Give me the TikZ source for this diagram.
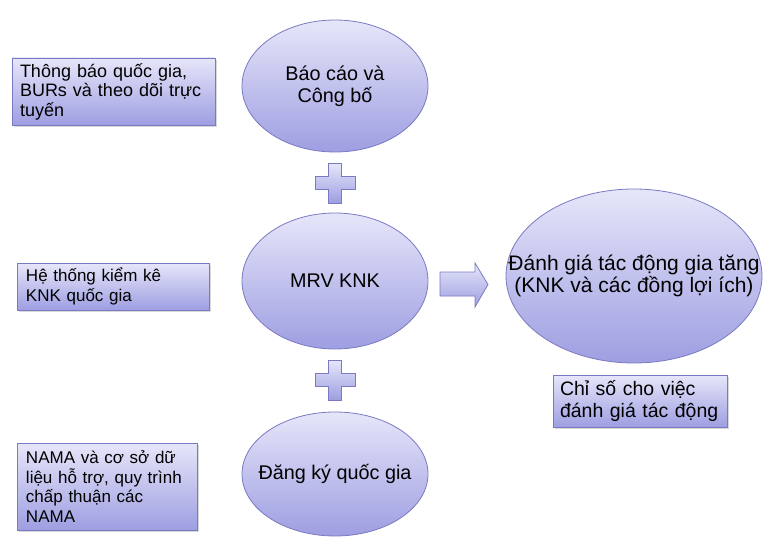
\documentclass[tikz,border=0pt]{standalone}
\usepackage{fontspec}
\setmainfont{Liberation Sans}
\usetikzlibrary{shapes.geometric,shadows}

\definecolor{fillTop}{HTML}{E6E6FA}
\definecolor{fillBot}{HTML}{9E9EE2}
\definecolor{edgeCol}{HTML}{7A7AC2}

\tikzset{
  lav/.style={draw=edgeCol, line width=0.8pt, top color=fillTop, bottom color=fillBot},
  % ellipse of fixed size; its text is set as a centred label so it cannot grow
  oval/.style={lav, ellipse, inner sep=0pt},
  ovaltext/.style={align=center, font=\fontsize{19.8}{22}\selectfont},
  infobox/.style={lav, rectangle, inner ysep=0pt, inner xsep=9pt, align=left,
    font=\fontsize{17}{19.5}\selectfont,
    drop shadow={shadow xshift=1.5pt, shadow yshift=-2pt, opacity=0.3}},
  pics/crossmark/.style={code={
    \path[lav] (-6.5,-20) -- (6.5,-20) -- (6.5,-6.5) -- (20,-6.5) -- (20,6.5)
      -- (6.5,6.5) -- (6.5,20) -- (-6.5,20) -- (-6.5,6.5) -- (-20,6.5)
      -- (-20,-6.5) -- (-6.5,-6.5) -- cycle;}},
}

\begin{document}
\begin{tikzpicture}[x=1pt, y=-1pt]
  \fill[white] (0,0) rectangle (764,543);
  \useasboundingbox (0,0) rectangle (764,543);

  % central column of ellipses
  \node[oval, minimum width=186pt, minimum height=132pt,
    label={[ovaltext]center:Báo cáo và\\Công bố}] (report) at (335,86) {};
  \node[oval, minimum width=186pt, minimum height=136pt,
    label={[ovaltext]center:MRV KNK}] (mrv) at (335,281) {};
  \node[oval, minimum width=186pt, minimum height=124pt,
    label={[ovaltext]center:Đăng ký quốc gia}] (registry) at (335,474) {};

  % plus signs between the ellipses
  \pic at (335,183) {crossmark};
  \pic at (335,380) {crossmark};

  % block arrow towards the assessment
  \path[lav] (440,272) -- (475,272) -- (475,263) -- (488,284.5) -- (475,307)
    -- (475,296) -- (440,296) -- cycle;

  % assessment ellipse and its indicator box
  \node[oval, minimum width=256pt, minimum height=174pt,
    label={[ovaltext, font=\fontsize{21}{22.5}\selectfont]center:Đánh giá tác động gia tăng\\(KNK và các đồng lợi ích)}]
    (impact) at (634,276) {};
  \node[infobox, font=\fontsize{19.5}{22}\selectfont, inner xsep=7pt, text width=160pt,
    minimum height=52pt] (indicator) at (640,401)
    {\mbox{Chỉ số cho việc}\\\mbox{đánh giá tác động}};

  % explanatory boxes on the left
  \node[infobox, font=\fontsize{18}{19.5}\selectfont, inner xsep=8pt,
    text width=187pt, minimum height=67pt] (natcom) at (113.5,91.5)
    {Thông báo quốc gia,\\BURs và theo dõi trực\\tuyến};
  \node[infobox, text width=174pt, minimum height=47pt] (inventory) at (113,286.5)
    {Hệ thống kiểm kê\\KNK quốc gia};
  \node[infobox, text width=162pt, minimum height=87pt] (nama) at (107,486.5)
    {NAMA và cơ sở dữ\\liệu hỗ trợ, quy trình\\chấp thuận các\\NAMA};
\end{tikzpicture}
\end{document}
